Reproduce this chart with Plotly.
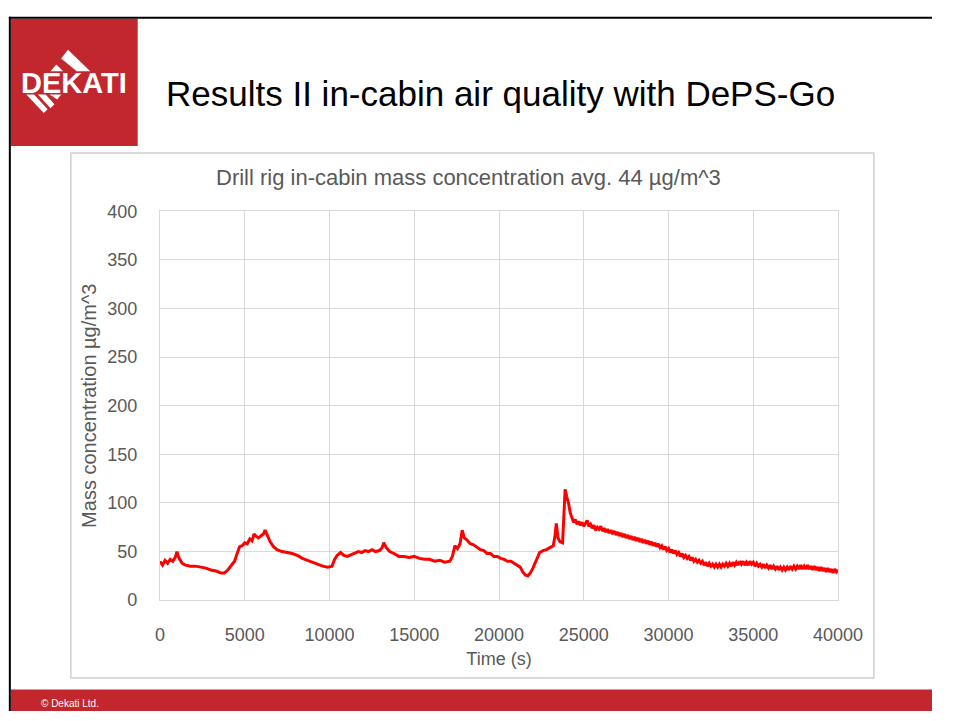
import plotly.graph_objects as go

W, H = 957, 721

# Mass concentration time series (time in s, concentration in ug/m^3)
time_s = [
    0, 150, 300, 450, 600, 750, 900, 1000, 1100, 1300, 1500, 1800, 2100, 2400, 2700,
    3000, 3300, 3600, 3800, 4000, 4200, 4400, 4550, 4700, 4850, 5000, 5150, 5300, 5430,
    5550, 5650, 5800, 5950, 6100, 6200, 6350, 6500, 6700, 6900, 7200, 7500, 7800, 8100,
    8400, 8700, 9000, 9300, 9600, 9900, 10150, 10300, 10450, 10650, 10850, 11050, 11300,
    11500, 11700, 11900, 12100, 12300, 12500, 12700, 12950, 13100, 13200, 13350, 13550,
    13800, 14100, 14400, 14700, 15000, 15300, 15600, 15900, 16200, 16500, 16800, 17100,
    17250, 17400, 17550, 17700, 17830, 17950, 18100, 18300, 18500, 18700, 18900, 19100,
    19300, 19500, 19700, 19900, 20100, 20300, 20500, 20700, 20900, 21100, 21250, 21400,
    21550, 21700, 21850, 22000, 22200, 22400, 22600, 22800, 23000, 23200, 23300, 23380,
    23480, 23600, 23750, 23820, 23900, 24000, 24100, 24200, 24300, 24400, 24500, 24600,
    24700, 24800, 24900, 25000, 25100, 25200, 25300, 25400, 25500, 25600, 25700, 25800,
    25900, 26000, 26100, 26200, 26300, 26400, 26500, 26600, 26700, 26800, 26900, 27000,
    27100, 27200, 27300, 27400, 27500, 27600, 27700, 27800, 27900, 28000, 28100, 28200,
    28300, 28400, 28500, 28600, 28700, 28800, 28900, 29000, 29100, 29200, 29300, 29400,
    29500, 29600, 29700, 29800, 29900, 30000, 30100, 30200, 30300, 30400, 30500, 30600,
    30700, 30800, 30900, 31000, 31100, 31200, 31300, 31400, 31500, 31600, 31700, 31800,
    31900, 32000, 32100, 32200, 32300, 32400, 32500, 32600, 32700, 32800, 32900, 33000,
    33100, 33200, 33300, 33400, 33500, 33600, 33700, 33800, 33900, 34000, 34100, 34200,
    34300, 34400, 34500, 34600, 34700, 34800, 34900, 35000, 35100, 35200, 35300, 35400,
    35500, 35600, 35700, 35800, 35900, 36000, 36100, 36200, 36300, 36400, 36500, 36600,
    36700, 36800, 36900, 37000, 37100, 37200, 37300, 37400, 37500, 37600, 37700, 37800,
    37900, 38000, 38100, 38200, 38300, 38400, 38500, 38600, 38700, 38800, 38900, 39000,
    39100, 39200, 39300, 39400, 39500, 39600, 39700, 39800, 39900, 40000,
]
concentration = [
    40, 36, 41, 38, 42, 40, 44, 50, 44, 38, 36, 35, 35, 34, 33,
    31, 30, 28, 28, 31, 35, 40, 48, 55, 56, 59, 58, 63, 61,
    68, 66, 64, 66, 68, 72, 65, 60, 55, 52, 50, 49, 48, 46,
    43, 41, 39, 37, 35, 34, 35, 42, 46, 49, 46, 45, 47,
    48, 50, 49, 51, 50, 52, 50, 51, 54, 59, 54, 50,
    48, 45, 45, 44, 45, 43, 42, 42, 40, 41, 39, 40,
    45, 56, 53, 58, 72, 64, 62, 58, 57, 54, 52, 51,
    48, 48, 45, 45, 43, 42, 40, 40, 38, 36, 34, 29,
    26, 25, 28, 33, 42, 49, 51, 52, 54, 56, 66, 79,
    64, 60, 59, 80, 114, 106, 100, 90, 84, 80, 83, 78,
    81, 77, 80, 76, 79, 82, 76, 78, 74, 77, 72, 75,
    73, 76, 71, 74, 70, 73, 69, 72, 68, 71, 67, 70,
    66, 69, 65, 68, 64, 67, 63, 66, 62, 65, 61, 64,
    60, 63, 59, 62, 58, 61, 57, 60, 56, 59, 55, 58,
    54, 56, 52, 55, 51, 53, 49, 52, 48, 51, 47, 49,
    45, 48, 44, 46, 43, 45, 41, 44, 40, 42, 39, 41,
    38, 40, 36, 39, 35, 38, 35, 37, 34, 37, 34, 37,
    34, 37, 35, 38, 35, 38, 35, 39, 36, 39, 36, 40,
    37, 40, 36, 39, 36, 40, 37, 39, 35, 38, 35, 37,
    34, 37, 33, 36, 33, 36, 32, 35, 32, 35, 31, 34,
    31, 34, 31, 34, 31, 35, 32, 35, 32, 35, 32, 36,
    32, 35, 32, 36, 32, 35, 31, 35, 31, 34, 30, 34,
    30, 33, 29, 33, 29, 32, 28, 32, 29, 31,
]

x_ticks = [0, 5000, 10000, 15000, 20000, 25000, 30000, 35000, 40000]
y_ticks = [0, 50, 100, 150, 200, 250, 300, 350, 400]

slide_title = "Results II in-cabin air quality with DePS-Go"
chart_title = "Drill rig in-cabin mass concentration avg. 44 µg/m^3"
x_label = "Time (s)"
y_label = "Mass concentration µg/m^3"
footer = "© Dekati Ltd."

RED = "#C1272D"
GREY_TXT = "#595959"
GRID = "#D9D9D9"
FONT = "Liberation Sans, Arial, sans-serif"


def px(x):
    return x / W


def py(y):
    return 1 - y / H


def poly(points):
    return "M " + " L ".join(f"{px(a)},{py(b)}" for a, b in points) + " Z"


fig = go.Figure()
fig.add_trace(go.Scatter(
    x=time_s, y=concentration, mode="lines",
    line=dict(color="#FF0000", width=3),
    showlegend=False, hoverinfo="skip",
))

shapes = []
# slide frame lines
shapes.append(dict(type="line", xref="paper", yref="paper", x0=px(4), x1=1, y0=py(8), y1=py(8),
                   line=dict(color="black", width=2)))
shapes.append(dict(type="line", xref="paper", yref="paper", x0=px(5), x1=px(5), y0=py(7), y1=0,
                   line=dict(color="black", width=2)))
# logo block and footer band
shapes.append(dict(type="rect", xref="paper", yref="paper", x0=px(6), x1=px(137), y0=py(9), y1=py(140),
                   fillcolor=RED, line=dict(width=0), layer="below"))
shapes.append(dict(type="rect", xref="paper", yref="paper", x0=px(6), x1=1, y0=py(699), y1=0,
                   fillcolor=RED, line=dict(width=0), layer="below"))
# chart frame
shapes.append(dict(type="rect", xref="paper", yref="paper", x0=px(68), x1=px(897), y0=py(147), y1=py(687),
                   fillcolor="rgba(0,0,0,0)", line=dict(color="#D0D0D0", width=1.5), layer="below"))
# logo stripes (white diamond pieces around the wordmark)
logo_pieces = [
    [(58, 50), (65, 41), (88, 63), (74, 63)],
    [(47, 63), (53, 56), (60, 63)],
    [(22, 87), (30, 87), (44, 102), (40, 106)],
    [(34, 87), (42, 87), (51, 97), (47, 101)],
    [(46, 87), (58, 87), (54, 92)],
]
for pts in logo_pieces:
    shapes.append(dict(type="path", xref="paper", yref="paper", path=poly(pts),
                       fillcolor="white", line=dict(width=0)))

annotations = [
    dict(text="DEKATI", x=px(71.5), y=py(75), xref="paper", yref="paper", showarrow=False,
         font=dict(family=FONT, size=29, color="white", weight="bold"), xanchor="center", yanchor="middle"),
    dict(text=slide_title, x=px(164), y=py(86), xref="paper", yref="paper", showarrow=False,
         font=dict(family=FONT, size=35, color="black"), xanchor="left", yanchor="middle"),
    dict(text=chart_title, x=px(478), y=py(172), xref="paper", yref="paper", showarrow=False,
         font=dict(family=FONT, size=22, color=GREY_TXT), xanchor="center", yanchor="middle"),
    dict(text=footer, x=px(35), y=py(713), xref="paper", yref="paper", showarrow=False,
         font=dict(family=FONT, size=10, color="white"), xanchor="left", yanchor="middle"),
]

fig.update_layout(
    width=W, height=H,
    margin=dict(l=0, r=0, t=0, b=0),
    paper_bgcolor="white", plot_bgcolor="white",
    shapes=shapes, annotations=annotations,
    font=dict(family=FONT, color=GREY_TXT),
    xaxis=dict(
        domain=[px(160), px(860)], range=[0, 40000], tickvals=x_ticks,
        ticktext=[str(v) for v in x_ticks],
        showgrid=True, gridcolor=GRID, gridwidth=1, zeroline=False,
        showline=True, linecolor=GRID, mirror=True, ticks="",
        tickfont=dict(size=18, color=GREY_TXT), ticklabelstandoff=18,
        title=dict(text=x_label, font=dict(size=18, color=GREY_TXT), standoff=8),
    ),
    yaxis=dict(
        domain=[py(607), py(207)], range=[0, 400], tickvals=y_ticks,
        showgrid=True, gridcolor=GRID, gridwidth=1, zeroline=False,
        showline=True, linecolor=GRID, mirror=True, ticks="",
        tickfont=dict(size=18, color=GREY_TXT), ticklabelstandoff=18,
        title=dict(text=y_label, font=dict(size=20, color=GREY_TXT), standoff=5),
    ),
)

fig.write_html("out.html")
